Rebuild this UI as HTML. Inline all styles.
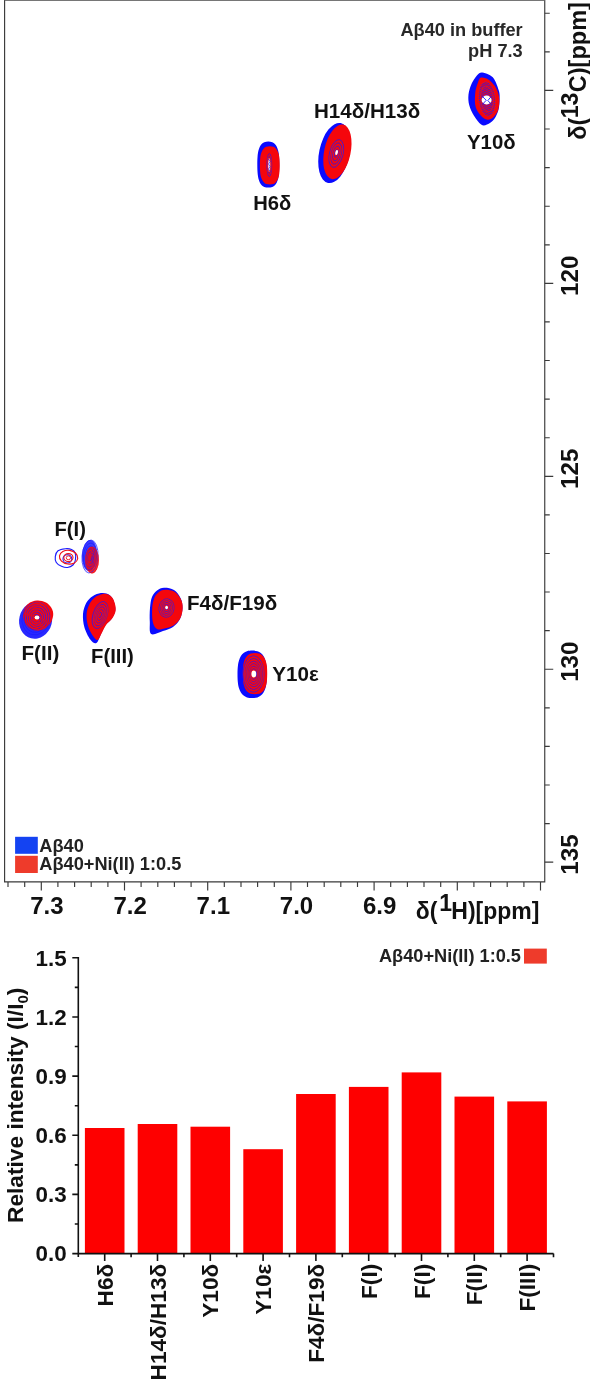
<!DOCTYPE html>
<html><head><meta charset="utf-8"><title>Figure</title>
<style>
html,body{margin:0;padding:0;background:#fff;}
body{width:590px;height:1384px;overflow:hidden;}
svg{display:block;}
svg text{font-family:"Liberation Sans",sans-serif;font-weight:bold;}
.ax{stroke:#3a3a3a;stroke-width:1.15;fill:none;}
.ax2{stroke:#111;stroke-width:1.6;fill:none;}
.bl{fill:#0a0aff;}
.rd{fill:#f5060c;}
.cb{fill:none;stroke:#1a1aff;stroke-width:0.7;}
.cr{fill:none;stroke:#f01018;stroke-width:0.7;}
.cw{fill:#fff;}
</style></head><body>
<svg width="590" height="1384" viewBox="0 0 590 1384">
<rect width="590" height="1384" fill="#fff"/>
<g class="ax"><path d="M4.6 0V881.9H544.75V0"/><path d="M4.6 0.4H544.75" stroke="#666" style="stroke-width:1"/>
<path d="M8.0 881.9v5.1M24.7 881.9v5.1M41.3 881.9v8.6M57.9 881.9v5.1M74.6 881.9v5.1M91.2 881.9v5.1M107.9 881.9v5.1M124.5 881.9v8.6M141.1 881.9v5.1M157.8 881.9v5.1M174.4 881.9v5.1M191.1 881.9v5.1M207.7 881.9v8.6M224.3 881.9v5.1M241.0 881.9v5.1M257.6 881.9v5.1M274.3 881.9v5.1M290.9 881.9v8.6M307.5 881.9v5.1M324.2 881.9v5.1M340.8 881.9v5.1M357.5 881.9v5.1M374.1 881.9v8.6M390.7 881.9v5.1M407.4 881.9v5.1M424.0 881.9v5.1M440.7 881.9v5.1M457.3 881.9v8.6M473.9 881.9v5.1M490.6 881.9v5.1M507.2 881.9v5.1M523.9 881.9v5.1M540.5 881.9v8.6"/>
<path d="M544.75 13.2h5M544.75 51.8h5M544.75 90.4h8.5M544.75 129.0h5M544.75 167.6h5M544.75 206.2h5M544.75 244.8h5M544.75 283.3h8.5M544.75 321.9h5M544.75 360.5h5M544.75 399.1h5M544.75 437.7h5M544.75 476.3h8.5M544.75 514.9h5M544.75 553.5h5M544.75 592.0h5M544.75 630.6h5M544.75 669.2h8.5M544.75 707.8h5M544.75 746.4h5M544.75 785.0h5M544.75 823.6h5M544.75 862.1h8.5"/></g>
<text x="46.9" y="914" font-size="24" text-anchor="middle" fill="#111">7.3</text>
<text x="130.1" y="914" font-size="24" text-anchor="middle" fill="#111">7.2</text>
<text x="213.3" y="914" font-size="24" text-anchor="middle" fill="#111">7.1</text>
<text x="296.5" y="914" font-size="24" text-anchor="middle" fill="#111">7.0</text>
<text x="379.7" y="914" font-size="24" text-anchor="middle" fill="#111">6.9</text>
<text y="919.4" font-size="23" fill="#111"><tspan x="415.8">δ(</tspan><tspan x="439.2" dy="-8.1">1</tspan><tspan x="451.3" dy="8.1">H)[ppm]</tspan></text>
<text transform="translate(577.6 275.8) rotate(-90)" font-size="24.2" text-anchor="middle" fill="#111">120</text>
<text transform="translate(577.6 468.8) rotate(-90)" font-size="24.2" text-anchor="middle" fill="#111">125</text>
<text transform="translate(577.6 661.7) rotate(-90)" font-size="24.2" text-anchor="middle" fill="#111">130</text>
<text transform="translate(577.6 854.6) rotate(-90)" font-size="24.2" text-anchor="middle" fill="#111">135</text>
<text transform="translate(585.7 0) rotate(-90)" font-size="23.5" fill="#111"><tspan x="-139.8">δ(</tspan><tspan x="-118.3" dy="-8.2" font-size="23.2">13</tspan><tspan x="-92.2" dy="8.2">C)[ppm]</tspan></text>
<text x="522.7" y="36.2" font-size="18.2" text-anchor="end" fill="#282828">Aβ40 in buffer</text>
<text x="522.7" y="57.1" font-size="18.2" text-anchor="end" fill="#282828">pH 7.3</text>
<text x="314" y="117.5" font-size="20.6" fill="#111">H14δ/H13δ</text>
<text x="467" y="149.2" font-size="20.4" fill="#111">Y10δ</text>
<text x="253.2" y="209.9" font-size="20.2" fill="#111">H6δ</text>
<text x="54.5" y="536" font-size="20.2" fill="#111">F(I)</text>
<text x="21.5" y="660" font-size="20.6" fill="#111">F(II)</text>
<text x="91" y="663" font-size="20.3" fill="#111">F(III)</text>
<text x="187" y="609.6" font-size="20.6" fill="#111">F4δ/F19δ</text>
<text x="272.3" y="680.5" font-size="20.6" fill="#111">Y10ε</text>
<rect x="15.1" y="836.8" width="22.7" height="17" fill="#1443f2"/><rect x="15.1" y="855.8" width="22.7" height="17.2" fill="#ee3b2b"/>
<text x="39.3" y="852.1" font-size="18.2" fill="#222">Aβ40</text><text x="39.3" y="870.2" font-size="18.2" fill="#222">Aβ40+Ni(II) 1:0.5</text>
<g id="peaks">
<path class="bl" d="M481.7 72.5C483.6 72.3 486.4 73.4 488.5 74.5C490.6 75.6 492.4 76.3 494.1 79.0C495.8 81.7 498.0 87.5 498.9 90.8C499.8 94.1 499.7 95.9 499.6 99.1C499.5 102.3 499.4 106.4 498.5 109.8C497.6 113.2 496.0 116.8 494.1 119.3C492.2 121.8 489.2 123.7 487.0 124.6C484.8 125.5 483.3 126.1 481.1 124.6C478.9 123.1 476.0 119.0 474.0 115.8C472.0 112.5 470.1 108.7 469.2 105.1C468.3 101.5 468.1 98.0 468.5 94.4C468.9 90.8 470.2 86.9 471.6 83.7C473.0 80.5 475.2 77.3 476.9 75.4C478.6 73.5 479.8 72.7 481.7 72.5Z"/>
<path class="rd" d="M480.5 77.8C481.8 77.0 483.9 77.7 485.5 78.2C487.1 78.7 488.0 78.9 489.8 80.6C491.6 82.3 494.7 85.4 496.3 88.5C497.9 91.6 499.0 95.5 499.3 99.1C499.6 102.6 499.0 107.0 498.2 109.8C497.4 112.6 495.9 114.4 494.5 116.0C493.1 117.6 491.3 119.2 489.5 119.6C487.7 119.9 485.8 120.1 483.5 118.1C481.2 116.1 477.2 111.6 475.8 107.4C474.4 103.2 474.9 97.3 475.2 93.2C475.5 89.1 476.9 85.6 477.8 83.0C478.7 80.4 479.2 78.6 480.5 77.8Z"/>
<clipPath id="cy10"><ellipse cx="487" cy="99" rx="8.6" ry="17.5" transform="rotate(-6 487 99)"/></clipPath>
<path class="cb" clip-path="url(#cy10)" style="stroke-width:0.8" d="M477 76.6L497 66.6M477 78.7L497 68.7M477 80.8L497 70.8M477 82.9L497 72.9M477 85.0L497 75.0M477 87.1L497 77.1M477 89.2L497 79.2M477 91.3L497 81.3M477 93.4L497 83.4M477 95.5L497 85.5M477 97.6L497 87.6M477 99.7L497 89.7M477 101.8L497 91.8M477 103.9L497 93.9M477 106.0L497 96.0M477 108.1L497 98.1M477 110.2L497 100.2M477 112.3L497 102.3M477 114.4L497 104.4M477 116.5L497 106.5M477 118.6L497 108.6M477 120.7L497 110.7M477 122.8L497 112.8M477 124.9L497 114.9M477 127.0L497 117.0M477 129.1L497 119.1"/>
<ellipse class="cr" cx="487" cy="99" rx="8.60" ry="17.50" transform="rotate(-6 487 99)"/>
<ellipse class="cr" cx="487" cy="99" rx="6.50" ry="13.00" transform="rotate(-6 487 99)"/>
<ellipse class="cw" cx="486.6" cy="100" rx="5.00" ry="4.40" transform="rotate(0 486.6 100)"/>
<path class="cb" style="stroke-width:0.9" d="M482 96L486.2 100.3L482.3 104.5M491.5 96.2L487.8 100.5L491.5 104.6"/>
<ellipse class="bl" cx="334.4" cy="153" rx="15.20" ry="30.60" transform="rotate(12 334.4 153)"/>
<ellipse class="rd" cx="337.4" cy="151.8" rx="13.20" ry="27.80" transform="rotate(12 337.4 151.8)"/>
<ellipse class="cb" cx="336.3" cy="153.5" rx="6.75" ry="14.25" transform="rotate(14 336.3 153.5)"/>
<ellipse class="cb" cx="336.3" cy="153.5" rx="5.13" ry="10.83" transform="rotate(14 336.3 153.5)"/>
<ellipse class="cb" cx="336.3" cy="153.5" rx="3.51" ry="7.41" transform="rotate(14 336.3 153.5)"/>
<ellipse class="cb" cx="336.3" cy="153.5" rx="1.89" ry="3.99" transform="rotate(14 336.3 153.5)"/>
<ellipse class="cr" cx="336.3" cy="153.5" rx="5.94" ry="12.54" transform="rotate(14 336.3 153.5)"/>
<ellipse class="cr" cx="336.3" cy="153.5" rx="4.32" ry="9.12" transform="rotate(14 336.3 153.5)"/>
<ellipse class="cr" cx="336.3" cy="153.5" rx="2.70" ry="5.70" transform="rotate(14 336.3 153.5)"/>
<ellipse class="cw" cx="336.6" cy="152.5" rx="1.30" ry="2.60" transform="rotate(14 336.6 152.5)"/>
<path class="bl" d="M279.3 164.6C279.3 167.4 279.2 170.8 279.0 173.1C278.8 175.3 278.6 176.8 278.2 178.4C277.8 179.9 277.4 181.2 276.8 182.4C276.3 183.5 275.6 184.5 274.9 185.3C274.1 186.0 273.4 186.6 272.3 187.0C271.2 187.4 269.6 187.6 268.3 187.6C267.0 187.6 265.4 187.4 264.3 187.0C263.2 186.6 262.5 186.0 261.7 185.3C261.0 184.5 260.3 183.5 259.8 182.4C259.2 181.2 258.8 179.9 258.4 178.4C258.0 176.8 257.8 175.3 257.6 173.1C257.4 170.8 257.3 167.4 257.3 164.6C257.3 161.8 257.4 158.4 257.6 156.1C257.8 153.9 258.0 152.4 258.4 150.8C258.8 149.3 259.2 148.0 259.8 146.8C260.3 145.7 261.0 144.7 261.7 143.9C262.5 143.2 263.2 142.6 264.3 142.2C265.4 141.8 267.0 141.6 268.3 141.6C269.6 141.6 271.2 141.8 272.3 142.2C273.4 142.6 274.1 143.2 274.9 143.9C275.6 144.7 276.3 145.7 276.8 146.8C277.4 148.0 277.8 149.3 278.2 150.8C278.6 152.4 278.8 153.9 279.0 156.1C279.2 158.4 279.3 161.8 279.3 164.6Z"/>
<path class="rd" d="M279.7 165.4C279.7 167.7 279.6 170.3 279.4 172.2C279.3 174.1 279.0 175.3 278.7 176.7C278.3 178.0 277.9 179.1 277.4 180.1C276.9 181.1 276.3 181.9 275.6 182.6C274.9 183.3 274.3 183.8 273.3 184.1C272.3 184.4 271.0 184.6 269.8 184.6C268.6 184.6 267.3 184.4 266.3 184.1C265.3 183.8 264.7 183.3 264.0 182.6C263.3 181.9 262.7 181.1 262.2 180.1C261.7 179.1 261.3 178.0 260.9 176.7C260.6 175.3 260.3 174.1 260.2 172.2C260.0 170.3 259.9 167.7 259.9 165.4C259.9 163.1 260.0 160.5 260.2 158.6C260.3 156.7 260.6 155.5 260.9 154.1C261.3 152.8 261.7 151.7 262.2 150.7C262.7 149.7 263.3 148.9 264.0 148.2C264.7 147.5 265.3 147.0 266.3 146.7C267.3 146.4 268.6 146.2 269.8 146.2C271.0 146.2 272.3 146.4 273.3 146.7C274.3 147.0 274.9 147.5 275.6 148.2C276.3 148.9 276.9 149.7 277.4 150.7C277.9 151.7 278.3 152.8 278.7 154.1C279.0 155.5 279.3 156.7 279.4 158.6C279.6 160.5 279.7 163.1 279.7 165.4Z"/>
<ellipse class="cb" cx="269.3" cy="165" rx="2.40" ry="11.52" transform="rotate(0 269.3 165)"/>
<ellipse class="cb" cx="269.3" cy="165" rx="1.80" ry="8.64" transform="rotate(0 269.3 165)"/>
<ellipse class="cw" cx="269.2" cy="165" rx="1.30" ry="7.00" transform="rotate(0 269.2 165)"/>
<ellipse class="cr" cx="269.3" cy="165" rx="2.08" ry="9.98" transform="rotate(0 269.3 165)"/>
<ellipse class="cr" cx="269.3" cy="165" rx="1.44" ry="6.91" transform="rotate(0 269.3 165)"/>
<path class="cb" d="M268.6 159l1.4 2.5l-1.4 2.5l1.4 2.5l-1.4 2.5l1.4 2.5"/>
<path class="cb" d="M65.5 548.7C67.8 548.5 69.9 548.8 71.5 549.5C73.1 550.2 74.5 551.2 75.2 553.0C75.9 554.8 75.8 558.0 75.4 560.0C75.0 562.0 74.3 563.8 73.0 565.0C71.7 566.2 69.4 567.3 67.5 567.5C65.6 567.7 63.4 567.1 61.5 566.3C59.6 565.5 57.3 564.1 56.3 562.5C55.3 560.9 55.0 558.5 55.3 556.5C55.6 554.5 56.3 552.1 58.0 550.8C59.7 549.5 63.2 548.9 65.5 548.7Z" style="stroke-width:1.15"/>
<ellipse class="cb" cx="67.4" cy="558.9" rx="4.40" ry="4.10" transform="rotate(0 67.4 558.9)" style="stroke-width:1.1"/>
<ellipse class="cr" cx="68.6" cy="557.2" rx="9.20" ry="6.90" transform="rotate(8 68.6 557.2)" style="stroke-width:1.15"/>
<ellipse class="cr" cx="68.4" cy="557.6" rx="4.60" ry="4.00" transform="rotate(0 68.4 557.6)" style="stroke-width:1.1"/>
<ellipse class="cr" cx="68.4" cy="557.8" rx="2.20" ry="1.90" transform="rotate(0 68.4 557.8)" style="stroke-width:0.9"/>
<ellipse class="bl" cx="89.6" cy="555.5" rx="7.60" ry="15.50" transform="rotate(3 89.6 555.5)" fill-opacity="0.8"/>
<ellipse class="rd" cx="92" cy="560" rx="6.80" ry="13.60" transform="rotate(0 92 560)" fill-opacity="0.85"/>
<ellipse class="cb" cx="90" cy="556.5" rx="8.00" ry="16.50" transform="rotate(4 90 556.5)"/>
<ellipse class="cb" cx="90" cy="556.5" rx="6.56" ry="13.53" transform="rotate(4 90 556.5)"/>
<ellipse class="cb" cx="90" cy="556.5" rx="5.12" ry="10.56" transform="rotate(4 90 556.5)"/>
<ellipse class="cb" cx="90" cy="556.5" rx="3.68" ry="7.59" transform="rotate(4 90 556.5)"/>
<ellipse class="cb" cx="90" cy="556.5" rx="2.24" ry="4.62" transform="rotate(4 90 556.5)"/>
<ellipse class="cr" cx="92" cy="560" rx="6.44" ry="12.88" transform="rotate(0 92 560)"/>
<ellipse class="cr" cx="92" cy="560" rx="5.18" ry="10.36" transform="rotate(0 92 560)"/>
<ellipse class="cr" cx="92" cy="560" rx="3.92" ry="7.84" transform="rotate(0 92 560)"/>
<ellipse class="cr" cx="92" cy="560" rx="2.66" ry="5.32" transform="rotate(0 92 560)"/>
<ellipse class="bl" cx="35.6" cy="620.2" rx="16.40" ry="18.70" transform="rotate(14 35.6 620.2)" fill-opacity="0.88"/>
<path class="rd" d="M38.0 600.6C40.2 600.8 43.8 601.3 46.0 602.5C48.2 603.7 50.3 605.9 51.5 608.0C52.7 610.1 53.4 612.5 53.2 615.0C53.0 617.5 52.0 620.7 50.5 623.0C49.0 625.3 46.4 627.8 44.0 629.0C41.6 630.2 38.6 630.8 36.0 630.5C33.4 630.2 30.5 629.2 28.5 627.5C26.5 625.8 24.7 622.8 23.8 620.0C22.9 617.2 22.8 613.6 23.4 611.0C24.0 608.4 26.0 606.1 27.5 604.5C29.0 602.9 30.8 602.1 32.5 601.5C34.2 600.9 35.8 600.4 38.0 600.6Z"/>
<ellipse class="cb" cx="36" cy="618.5" rx="13.80" ry="16.56" transform="rotate(15 36 618.5)"/>
<ellipse class="cb" cx="36" cy="618.5" rx="11.70" ry="14.04" transform="rotate(15 36 618.5)"/>
<ellipse class="cb" cx="36" cy="618.5" rx="9.60" ry="11.52" transform="rotate(15 36 618.5)"/>
<ellipse class="cb" cx="36" cy="618.5" rx="7.50" ry="9.00" transform="rotate(15 36 618.5)"/>
<ellipse class="cb" cx="36" cy="618.5" rx="5.40" ry="6.48" transform="rotate(15 36 618.5)"/>
<ellipse class="cb" cx="36" cy="618.5" rx="3.30" ry="3.96" transform="rotate(15 36 618.5)"/>
<ellipse class="cr" cx="38" cy="616" rx="12.90" ry="13.76" transform="rotate(0 38 616)"/>
<ellipse class="cr" cx="38" cy="616" rx="10.80" ry="11.52" transform="rotate(0 38 616)"/>
<ellipse class="cr" cx="38" cy="616" rx="8.70" ry="9.28" transform="rotate(0 38 616)"/>
<ellipse class="cr" cx="38" cy="616" rx="6.60" ry="7.04" transform="rotate(0 38 616)"/>
<ellipse class="cr" cx="38" cy="616" rx="4.50" ry="4.80" transform="rotate(0 38 616)"/>
<ellipse class="cw" cx="37" cy="617.5" rx="2.40" ry="2.00" transform="rotate(0 37 617.5)"/>
<path class="bl" d="M100.9 593.1C103.2 592.7 104.6 593.0 106.4 593.6C108.2 594.2 110.2 595.4 111.5 597.0C112.8 598.6 113.7 600.7 114.3 603.0C114.9 605.3 115.7 608.3 115.2 611.0C114.7 613.7 113.1 616.6 111.5 619.0C109.9 621.4 107.2 622.6 105.5 625.1C103.8 627.6 102.5 630.9 101.0 633.9C99.5 636.9 98.2 642.0 96.4 643.0C94.6 644.0 92.3 642.2 90.3 639.6C88.3 637.0 85.6 631.5 84.4 627.3C83.2 623.0 82.7 618.1 83.0 614.1C83.3 610.1 84.6 606.0 86.2 603.0C87.8 600.0 90.1 597.9 92.6 596.2C95.0 594.6 98.6 593.5 100.9 593.1Z"/>
<path class="rd" d="M102.5 594.0C104.6 593.5 105.9 593.7 107.5 594.3C109.1 594.9 111.0 596.0 112.2 597.5C113.4 599.0 114.2 601.0 114.8 603.3C115.4 605.5 116.1 608.4 115.6 611.0C115.1 613.6 113.6 616.5 112.0 618.8C110.4 621.1 107.9 622.4 106.2 624.8C104.5 627.2 103.2 630.5 101.8 633.0C100.4 635.5 99.1 639.5 97.6 640.0C96.1 640.5 94.6 638.3 93.0 636.0C91.4 633.7 89.1 629.7 88.0 626.0C86.9 622.3 86.3 617.7 86.6 614.0C86.8 610.3 88.1 606.8 89.5 604.0C90.9 601.2 92.8 598.9 95.0 597.2C97.2 595.5 100.4 594.5 102.5 594.0Z"/>
<ellipse class="cb" cx="100" cy="615" rx="7.00" ry="14.00" transform="rotate(18 100 615)"/>
<ellipse class="cb" cx="100" cy="615" rx="5.60" ry="11.20" transform="rotate(18 100 615)"/>
<ellipse class="cb" cx="100" cy="615" rx="4.20" ry="8.40" transform="rotate(18 100 615)"/>
<ellipse class="cb" cx="100" cy="615" rx="2.80" ry="5.60" transform="rotate(18 100 615)"/>
<ellipse class="cb" cx="100" cy="615" rx="1.40" ry="2.80" transform="rotate(18 100 615)"/>
<ellipse class="cr" cx="100.5" cy="615" rx="6.30" ry="12.60" transform="rotate(18 100.5 615)"/>
<ellipse class="cr" cx="100.5" cy="615" rx="4.90" ry="9.80" transform="rotate(18 100.5 615)"/>
<ellipse class="cr" cx="100.5" cy="615" rx="3.50" ry="7.00" transform="rotate(18 100.5 615)"/>
<ellipse class="cr" cx="100.5" cy="615" rx="2.10" ry="4.20" transform="rotate(18 100.5 615)"/>
<path class="bl" d="M164.0 587.8C166.8 587.7 171.2 588.3 174.0 590.0C176.8 591.7 179.1 595.0 180.5 598.0C181.9 601.0 182.6 604.5 182.5 608.0C182.4 611.5 181.6 615.8 180.0 619.0C178.4 622.2 175.8 625.0 173.0 627.0C170.2 629.0 166.6 629.8 163.0 631.0C159.4 632.2 153.4 635.5 151.2 634.0C149.0 632.5 150.0 626.3 149.8 622.0C149.6 617.7 149.6 612.2 150.0 608.0C150.4 603.8 150.8 599.9 152.0 597.0C153.2 594.1 155.0 592.0 157.0 590.5C159.0 589.0 161.2 587.9 164.0 587.8Z"/>
<path class="rd" d="M165.5 589.8C168.1 589.8 171.9 590.3 174.5 591.8C177.1 593.3 179.4 596.3 180.8 599.0C182.2 601.7 182.8 604.8 182.7 608.0C182.6 611.2 181.9 615.1 180.4 618.0C178.9 620.9 176.2 623.8 173.5 625.5C170.8 627.2 167.2 627.9 164.5 628.5C161.8 629.1 158.9 630.1 157.0 629.0C155.1 627.9 153.6 625.5 152.8 622.0C152.0 618.5 151.9 612.0 152.2 608.0C152.4 604.0 153.2 600.7 154.3 598.0C155.4 595.3 157.1 593.4 159.0 592.0C160.9 590.6 162.9 589.8 165.5 589.8Z"/>
<ellipse class="cb" cx="166.5" cy="608" rx="7.50" ry="9.25" transform="rotate(8 166.5 608)"/>
<ellipse class="cb" cx="166.5" cy="608" rx="6.00" ry="7.40" transform="rotate(8 166.5 608)"/>
<ellipse class="cb" cx="166.5" cy="608" rx="4.50" ry="5.55" transform="rotate(8 166.5 608)"/>
<ellipse class="cb" cx="166.5" cy="608" rx="3.00" ry="3.70" transform="rotate(8 166.5 608)"/>
<ellipse class="cb" cx="166.5" cy="608" rx="1.50" ry="1.85" transform="rotate(8 166.5 608)"/>
<ellipse class="cr" cx="166.5" cy="608" rx="6.75" ry="8.33" transform="rotate(8 166.5 608)"/>
<ellipse class="cr" cx="166.5" cy="608" rx="5.25" ry="6.47" transform="rotate(8 166.5 608)"/>
<ellipse class="cr" cx="166.5" cy="608" rx="3.75" ry="4.62" transform="rotate(8 166.5 608)"/>
<ellipse class="cr" cx="166.5" cy="608" rx="2.25" ry="2.77" transform="rotate(8 166.5 608)"/>
<ellipse class="cw" cx="166.6" cy="607.5" rx="1.40" ry="1.80" transform="rotate(0 166.6 607.5)"/>
<path class="bl" d="M266.9 674.3C266.9 677.1 266.8 680.4 266.5 682.7C266.3 685.0 265.9 686.6 265.4 688.2C264.9 689.8 264.2 691.2 263.5 692.5C262.7 693.7 261.8 694.7 260.8 695.5C259.8 696.3 258.8 697.0 257.4 697.4C256.0 697.8 253.9 698.0 252.2 698.0C250.5 698.0 248.4 697.8 247.0 697.4C245.6 697.0 244.6 696.3 243.6 695.5C242.6 694.7 241.7 693.7 240.9 692.5C240.2 691.2 239.5 689.8 239.0 688.2C238.5 686.6 238.1 685.0 237.9 682.7C237.6 680.4 237.5 677.1 237.5 674.3C237.5 671.5 237.6 668.2 237.9 665.9C238.1 663.6 238.5 662.0 239.0 660.4C239.5 658.8 240.2 657.4 240.9 656.1C241.7 654.9 242.6 653.9 243.6 653.1C244.6 652.3 245.6 651.6 247.0 651.2C248.4 650.8 250.5 650.6 252.2 650.6C253.9 650.6 256.0 650.8 257.4 651.2C258.8 651.6 259.8 652.3 260.8 653.1C261.8 653.9 262.7 654.9 263.5 656.1C264.2 657.4 264.9 658.8 265.4 660.4C265.9 662.0 266.3 663.6 266.5 665.9C266.8 668.2 266.9 671.5 266.9 674.3Z"/>
<path class="rd" d="M267.2 673.6C267.2 676.0 267.1 678.9 266.9 680.9C266.7 682.9 266.3 684.3 265.9 685.7C265.5 687.1 265.0 688.3 264.3 689.4C263.7 690.4 263.0 691.3 262.2 692.0C261.3 692.8 260.5 693.3 259.3 693.7C258.1 694.0 256.4 694.2 255.0 694.2C253.6 694.2 251.9 694.0 250.7 693.7C249.5 693.3 248.7 692.8 247.8 692.0C247.0 691.3 246.3 690.4 245.7 689.4C245.0 688.3 244.5 687.1 244.1 685.7C243.7 684.3 243.3 682.9 243.1 680.9C242.9 678.9 242.8 676.0 242.8 673.6C242.8 671.2 242.9 668.3 243.1 666.3C243.3 664.3 243.7 662.9 244.1 661.5C244.5 660.1 245.0 658.9 245.7 657.8C246.3 656.8 247.0 655.9 247.8 655.2C248.7 654.4 249.5 653.9 250.7 653.5C251.9 653.2 253.6 653.0 255.0 653.0C256.4 653.0 258.1 653.2 259.3 653.5C260.5 653.9 261.3 654.4 262.2 655.2C263.0 655.9 263.7 656.8 264.3 657.8C265.0 658.9 265.5 660.1 265.9 661.5C266.3 662.9 266.7 664.3 266.9 666.3C267.1 668.3 267.2 671.2 267.2 673.6Z"/>
<ellipse class="cb" cx="253.5" cy="674" rx="10.56" ry="18.30" transform="rotate(0 253.5 674)"/>
<ellipse class="cb" cx="253.5" cy="674" rx="9.00" ry="15.60" transform="rotate(0 253.5 674)"/>
<ellipse class="cb" cx="253.5" cy="674" rx="7.44" ry="12.90" transform="rotate(0 253.5 674)"/>
<ellipse class="cb" cx="253.5" cy="674" rx="6.00" ry="10.40" transform="rotate(0 253.5 674)"/>
<ellipse class="cb" cx="253.5" cy="674" rx="4.56" ry="7.90" transform="rotate(0 253.5 674)"/>
<ellipse class="cb" cx="253.5" cy="674" rx="3.12" ry="5.41" transform="rotate(0 253.5 674)"/>
<ellipse class="cr" cx="254" cy="674" rx="9.72" ry="16.85" transform="rotate(0 254 674)"/>
<ellipse class="cr" cx="254" cy="674" rx="8.16" ry="14.14" transform="rotate(0 254 674)"/>
<ellipse class="cr" cx="254" cy="674" rx="6.72" ry="11.65" transform="rotate(0 254 674)"/>
<ellipse class="cr" cx="254" cy="674" rx="5.28" ry="9.15" transform="rotate(0 254 674)"/>
<ellipse class="cr" cx="254" cy="674" rx="3.84" ry="6.66" transform="rotate(0 254 674)"/>
<ellipse class="cw" cx="253.8" cy="674" rx="2.40" ry="3.40" transform="rotate(0 253.8 674)"/>
</g>
<g fill="#fe0000"><rect x="84.9" y="1128" width="39.6" height="125.6"/><rect x="137.7" y="1124" width="39.6" height="129.6"/><rect x="190.5" y="1126.7" width="39.6" height="126.9"/><rect x="243.3" y="1149.2" width="39.6" height="104.4"/><rect x="296.1" y="1094" width="39.6" height="159.6"/><rect x="348.9" y="1086.9" width="39.6" height="166.7"/><rect x="401.7" y="1072.4" width="39.6" height="181.2"/><rect x="454.5" y="1096.6" width="39.6" height="157.0"/><rect x="507.3" y="1101.4" width="39.6" height="152.2"/></g>
<path class="ax2" d="M78.3 957.0V1257.0M77.5 1253.6H553.5M78.3 1253.6h-6M78.3 1224.0h-3.5M78.3 1194.4h-6M78.3 1164.9h-3.5M78.3 1135.3h-6M78.3 1105.7h-3.5M78.3 1076.1h-6M78.3 1046.5h-3.5M78.3 1017.0h-6M78.3 987.4h-3.5M78.3 957.8h-6M104.7 1253.6v7.4M131.1 1253.6v3.6M157.5 1253.6v7.4M183.9 1253.6v3.6M210.3 1253.6v7.4M236.7 1253.6v3.6M263.1 1253.6v7.4M289.5 1253.6v3.6M315.9 1253.6v7.4M342.3 1253.6v3.6M368.7 1253.6v7.4M395.1 1253.6v3.6M421.5 1253.6v7.4M447.9 1253.6v3.6M474.3 1253.6v7.4M500.7 1253.6v3.6M527.1 1253.6v7.4M553.5 1253.6v3.6"/>
<text x="66.6" y="1261.3" font-size="22.4" text-anchor="end" fill="#111">0.0</text>
<text x="66.6" y="1202.1" font-size="22.4" text-anchor="end" fill="#111">0.3</text>
<text x="66.6" y="1143.0" font-size="22.4" text-anchor="end" fill="#111">0.6</text>
<text x="66.6" y="1083.8" font-size="22.4" text-anchor="end" fill="#111">0.9</text>
<text x="66.6" y="1024.7" font-size="22.4" text-anchor="end" fill="#111">1.2</text>
<text x="66.6" y="965.5" font-size="22.4" text-anchor="end" fill="#111">1.5</text>
<text transform="translate(112.7 1263.8) rotate(-90)" font-size="22.6" text-anchor="end" fill="#111">H6δ</text>
<text transform="translate(165.5 1263.8) rotate(-90)" font-size="22.6" text-anchor="end" fill="#111">H14δ/H13δ</text>
<text transform="translate(218.3 1263.8) rotate(-90)" font-size="22.6" text-anchor="end" fill="#111">Y10δ</text>
<text transform="translate(271.1 1263.8) rotate(-90)" font-size="22.6" text-anchor="end" fill="#111">Y10ε</text>
<text transform="translate(323.9 1263.8) rotate(-90)" font-size="22.6" text-anchor="end" fill="#111">F4δ/F19δ</text>
<text transform="translate(376.7 1263.8) rotate(-90)" font-size="22.6" text-anchor="end" fill="#111">F(I)</text>
<text transform="translate(429.5 1263.8) rotate(-90)" font-size="22.6" text-anchor="end" fill="#111">F(I)</text>
<text transform="translate(482.3 1263.8) rotate(-90)" font-size="22.6" text-anchor="end" fill="#111">F(II)</text>
<text transform="translate(535.1 1263.8) rotate(-90)" font-size="22.6" text-anchor="end" fill="#111">F(III)</text>
<text transform="translate(22.9 1105.3) rotate(-90)" font-size="22.7" text-anchor="middle" fill="#111">Relative intensity (I/I<tspan dy="5" font-size="15">0</tspan><tspan dy="-5">)</tspan></text>
<rect x="524" y="948.6" width="22.8" height="15" fill="#ee3b2b"/>
<text x="521" y="962.3" font-size="18.2" text-anchor="end" fill="#222">Aβ40+Ni(II) 1:0.5</text>
</svg>
</body></html>
